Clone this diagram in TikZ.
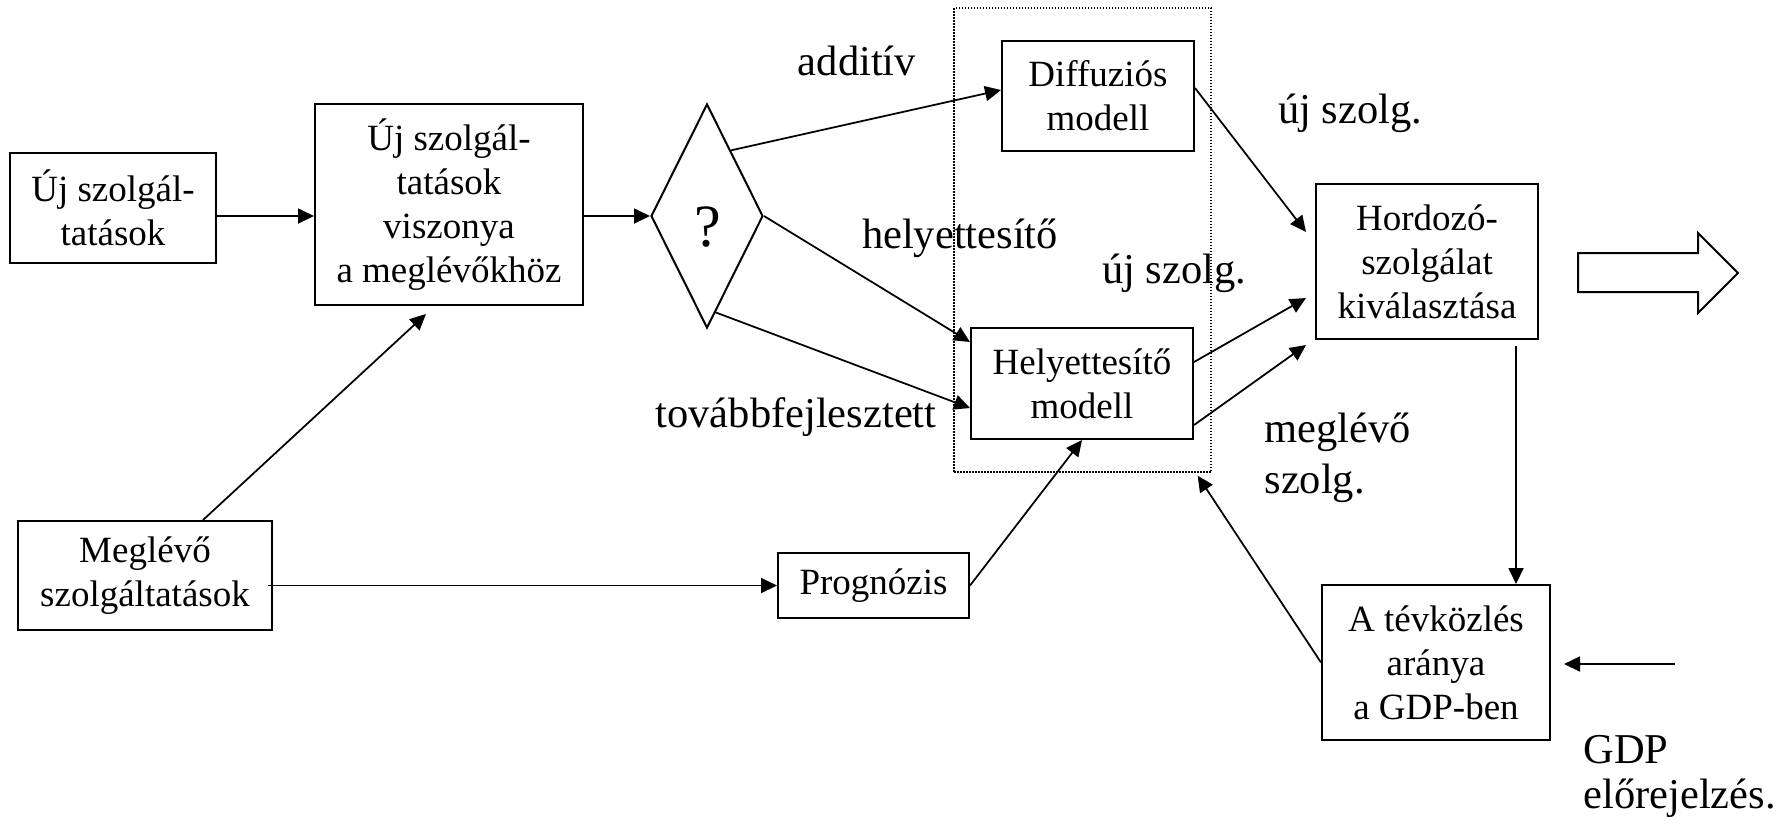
\documentclass[tikz,border=0pt]{standalone}
\usepackage{fontspec}
\setmainfont{Liberation Serif}
\usetikzlibrary{arrows.meta,shapes.geometric,calc}

\begin{document}
\begin{tikzpicture}[x=0.4pt,y=-0.4pt,
  box/.style={draw, line width=0.8pt, rectangle, inner sep=0pt, align=center,
              font=\fontsize{14.8}{17.6}\selectfont},
  sz/.style 2 args={minimum width=#1*0.4pt, minimum height=#2*0.4pt},
  arr/.style={line width=0.7pt, -{Triangle[length=6.4pt,width=6pt]}},
  lbl/.style={inner sep=0pt, font=\fontsize{17}{20.4}\selectfont},
]
\useasboundingbox (0,0) rectangle (1791,823);

% dotted frame around the two models
\node[draw, line width=0.5pt, dash pattern=on 0.6pt off 0.6pt, inner sep=0pt, sz={257}{464}] (frame) at (1082.5,240) {};

% blocks
\node[box, sz={206}{110}] (nu)    at (113,208)    {Új szolgál-\\tatások};
\node[box, sz={268}{201}] (rel)   at (449,204.5)  {Új szolgál-\\tatások\\viszonya\\a meglévőkhöz};
\node[draw, diamond, line width=0.8pt, inner sep=0pt,
      minimum width=44.8pt, minimum height=89.6pt] (dia) at (707,216) {};
\node[inner sep=0pt, font=\fontsize{24}{28}\selectfont] (q) at (708,227) {?};
\node[box, sz={192}{110}] (diff)  at (1098,96)    {Diffuziós\\modell};
\node[box, sz={222}{111}] (helye) at (1082,383.5) {Helyettesítő\\modell};
\node[box, sz={222}{155}] (hord)  at (1427,261.5) {Hordozó-\\szolgálat\\kiválasztása};
\node[box, sz={228}{155}] (tevk)  at (1436,662.5) {A tévközlés\\aránya\\a GDP-ben};
\node[box, sz={254}{109}] (meg)   at (145,575.5)  {Meglévő\\szolgáltatások};
\node[box, sz={191}{65}]  (prog)  at (873.5,585.5) {Prognózis};

% labels
\node[lbl, anchor=base] (ladd)  at (857,75)   {additív};
\node[lbl, anchor=base] (luj1)  at (1350,123) {új szolg.};
\node[lbl, anchor=base] (lhely) at (960,248)  {helyettesítő};
\node[lbl, anchor=base] (luj2)  at (1174,283) {új szolg.};
\node[lbl, anchor=base] (ltov)  at (796,427)  {továbbfejlesztett};
\node[lbl, anchor=base west] (lmeg1) at (1264,442) {meglévő};
\node[lbl, anchor=base west] (lmeg2) at (1264,493) {szolg.};
\node[lbl, anchor=base west] (lgdp1) at (1583,763) {GDP};
\node[lbl, anchor=base west] (lgdp2) at (1583,808) {előrejelzés.};

% connectors
\draw[arr] (nu.east |- dia) -- (rel.west |- dia);
\draw[arr] (rel.east |- dia) -- (dia.west);
\draw[arr] (dia.70) -- ($(diff.west)+(0,-6)$);
\draw[arr] (dia.east) -- ($(helye.north west)+(0,15)$);
\draw[arr] (dia.-85) -- ($(helye.west)+(0,24.5)$);
\draw[arr] ($(diff.east)+(0,-8)$) -- ($(hord.west)+(-9,-29.5)$);
\draw[arr] ($(helye.east)+(0,-21.5)$) -- ($(hord.west)+(-9,36.5)$);
\draw[arr] ($(helye.east)+(0,41.5)$) -- ($(hord.west)+(-9,83.5)$);
\draw[arr] ($(meg.north)+(58,0)$) -- ($(rel.south)+(-23,8)$);
\draw[arr] ($(meg.east |- prog.west)+(-5,0)$) -- (prog.west);
\draw[arr] (prog.east) -- (helye.south);
\coordinate (vdown) at ($(hord.south east)+(-23,6)$);
\draw[arr] (vdown) -- (vdown |- tevk.north);
\draw[arr] (tevk.west) -- ($(frame.south east)+(-14,3)$);
\coordinate (gdpin) at (1675,664);
\draw[arr] (gdpin) -- ($(tevk.east)+(13,1.5)$);

% outgoing block arrow
\draw[line width=0.8pt] (1578,253) -- (1698,253) -- (1698,233) -- (1738,273)
  -- (1698,313) -- (1698,292) -- (1578,292) -- cycle;
\end{tikzpicture}
\end{document}
